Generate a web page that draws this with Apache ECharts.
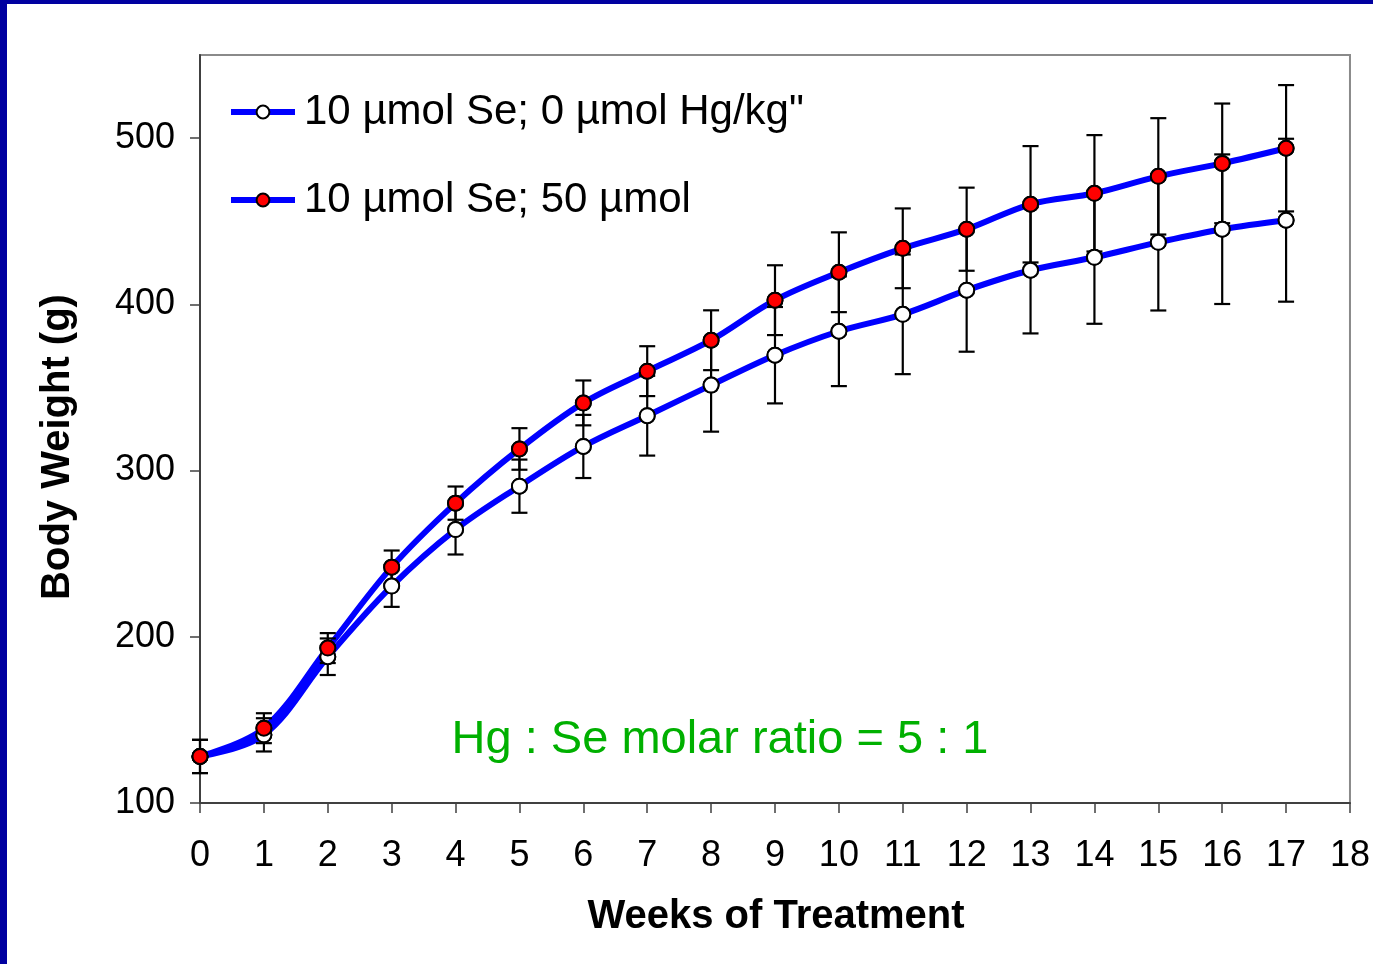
<!DOCTYPE html>
<html><head><meta charset="utf-8">
<script src="https://cdn.jsdelivr.net/npm/echarts@6/dist/echarts.min.js"></script>
<style>html,body{margin:0;padding:0;background:#fff}#c{width:1373px;height:964px}</style>
</head><body><div id="c"></div>
<script>
const weeks = [0,1,2,3,4,5,6,7,8,9,10,11,12,13,14,15,16,17];
const meanNoHg = [128,141,188,230.5,264.5,290.6,314.5,333,351.4,369.4,383.8,394,408.5,420.5,428.3,437.3,445.2,450.6];
const sdNoHg   = [10,10,11,12.5,15,16,19,24,28,29,33,36,37,38,40,41,45,49];
const meanHg   = [128,145,193.2,241.9,280.4,313,340.7,359.8,378.4,402.5,419.3,433.7,445.2,460.2,466.8,477,484.8,493.9];
const sdHg     = [10,9,9,10,10,12.5,13.5,15,18,21,24,24,25,35,35,35,36,38];
const yTicks = [100,200,300,400,500];
const xTicks = [0,1,2,3,4,5,6,7,8,9,10,11,12,13,14,15,16,17,18];
const seriesNames = ['10 µmol Se; 0 µmol Hg/kg"', '10 µmol Se; 50 µmol'];
const xTitle = 'Weeks of Treatment';
const yTitle = 'Body Weight (g)';
const note = 'Hg : Se molar ratio = 5 : 1';

const FONT = 'Liberation Sans, Arial, sans-serif';
const BLUE = '#0000FF';

function pairs(m){ return weeks.map((w,i)=>[w,m[i]]); }
function errs(m,s){ return weeks.map((w,i)=>[w,m[i]-s[i],m[i]+s[i]]); }

function errRender(params, api){
  const x = api.value(0), lo = api.value(1), hi = api.value(2);
  const a = api.coord([x, lo]), b = api.coord([x, hi]);
  const hw = 8;
  const st = {stroke:'#000', lineWidth:2.2};
  return {type:'group', children:[
    {type:'line', shape:{x1:a[0],y1:a[1],x2:b[0],y2:b[1]}, style:st},
    {type:'line', shape:{x1:a[0]-hw,y1:a[1],x2:a[0]+hw,y2:a[1]}, style:st},
    {type:'line', shape:{x1:b[0]-hw,y1:b[1],x2:b[0]+hw,y2:b[1]}, style:st}
  ]};
}

const chart = echarts.init(document.getElementById('c'), null, {renderer:'canvas'});
chart.setOption({
  animation:false,
  backgroundColor:'#fff',
  grid:{left:200, top:55, right:23, bottom:161, show:true, borderColor:'#8a8a8a', borderWidth:2, backgroundColor:'#fff'},
  xAxis:{type:'value', min:0, max:18, interval:1,
    axisLine:{show:true, onZero:false, lineStyle:{color:'#404040', width:2}},
    axisTick:{show:true, length:10, lineStyle:{color:'#404040', width:1.5}},
    splitLine:{show:false},
    axisLabel:{fontSize:36, fontFamily:FONT, color:'#000', margin:35}
  },
  yAxis:{type:'value', min:100, max:550, interval:100,
    axisLine:{show:true, lineStyle:{color:'#404040', width:2}},
    axisTick:{show:true, length:10, lineStyle:{color:'#404040', width:1.5}, customValues:yTicks},
    splitLine:{show:false},
    axisLabel:{fontSize:36, fontFamily:FONT, color:'#000', margin:25, customValues:yTicks}
  },
  legend:{data:seriesNames, orient:'vertical', left:223, top:86, itemWidth:64, itemHeight:16, itemGap:46,
    lineStyle:{width:6, color:BLUE},
    textStyle:{fontSize:42, fontFamily:FONT, color:'#000', padding:[0,0,0,4]}},
  graphic:[
    {type:'rect', left:0, top:0, shape:{width:7, height:964}, style:{fill:'#0000A0'}, z:100},
    {type:'rect', left:0, top:0, shape:{width:1373, height:4}, style:{fill:'#0000A0'}, z:100},
    {type:'text', x:776, y:917, style:{text:xTitle, font:'bold 40px '+FONT, fill:'#000', align:'center', verticalAlign:'middle'}},
    {type:'text', x:58, y:447, rotation:Math.PI/2, style:{text:yTitle, font:'bold 40px '+FONT, fill:'#000', align:'center', verticalAlign:'middle'}},
    {type:'text', x:720, y:740, style:{text:note, font:'47px '+FONT, fill:'#00B000', align:'center', verticalAlign:'middle'}}
  ],
  series:[
    {name:seriesNames[0], type:'line', data:pairs(meanNoHg), smooth:0.35, symbol:'circle', symbolSize:15,
      lineStyle:{color:BLUE, width:6}, itemStyle:{color:'#fff', borderColor:'#000', borderWidth:2}, z:2},
    {name:seriesNames[1], type:'line', data:pairs(meanHg), smooth:0.35, symbol:'circle', symbolSize:15,
      lineStyle:{color:BLUE, width:6}, itemStyle:{color:'#FF0000', borderColor:'#000', borderWidth:2}, z:2},
    {name:'errNoHg', type:'custom', data:errs(meanNoHg,sdNoHg), renderItem:errRender, z:3, clip:false},
    {name:'errHg', type:'custom', data:errs(meanHg,sdHg), renderItem:errRender, z:3, clip:false},
    {name:'mNoHg', type:'scatter', data:pairs(meanNoHg), symbol:'circle', symbolSize:15,
      itemStyle:{color:'#fff', borderColor:'#000', borderWidth:2, opacity:1}, z:4},
    {name:'mHg', type:'scatter', data:pairs(meanHg), symbol:'circle', symbolSize:15,
      itemStyle:{color:'#FF0000', borderColor:'#000', borderWidth:2, opacity:1}, z:4}
  ]
});
</script></body></html>
